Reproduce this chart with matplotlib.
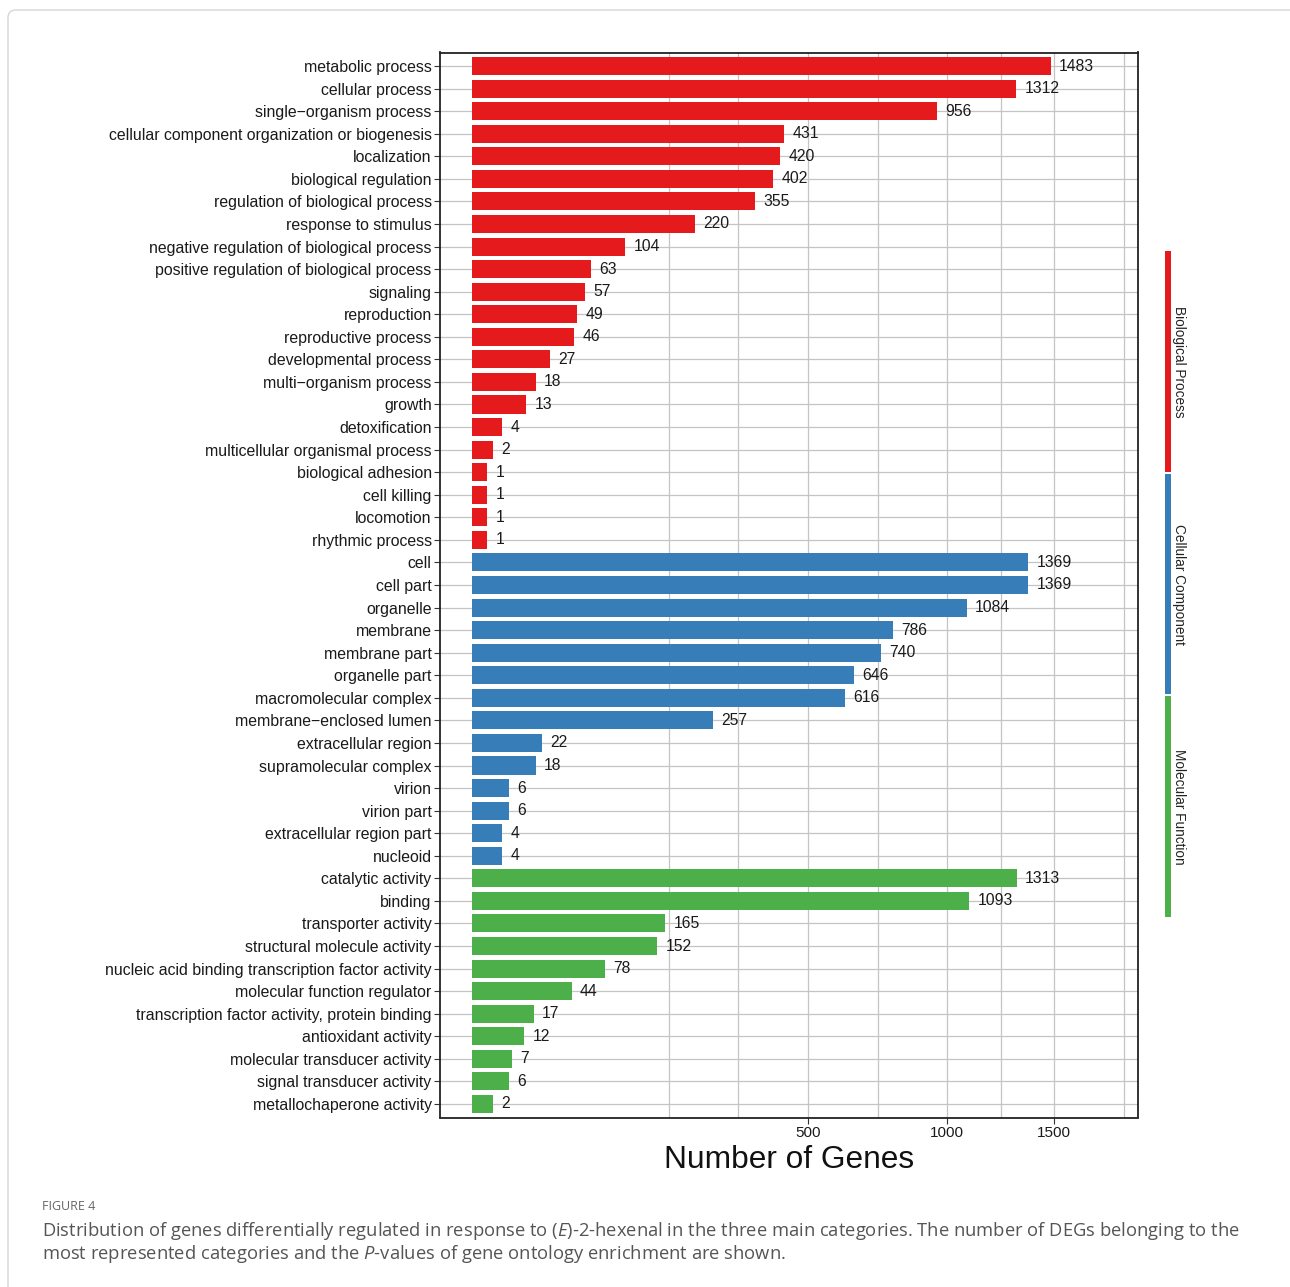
import matplotlib
import matplotlib.pyplot as plt
import numpy as np
from matplotlib.patches import FancyBboxPatch

matplotlib.use("Agg")

plt.rcParams["font.family"] = ["Liberation Sans", "DejaVu Sans"]
plt.rcParams["mathtext.fontset"] = "custom"
plt.rcParams["mathtext.rm"] = "Open Sans"
plt.rcParams["mathtext.it"] = "Open Sans:italic"

# GO level-2 terms and DEG counts, grouped by ontology
bp_terms = [
    "metabolic process", "cellular process", "single\u2212organism process",
    "cellular component organization or biogenesis", "localization",
    "biological regulation", "regulation of biological process",
    "response to stimulus", "negative regulation of biological process",
    "positive regulation of biological process", "signaling", "reproduction",
    "reproductive process", "developmental process", "multi\u2212organism process",
    "growth", "detoxification", "multicellular organismal process",
    "biological adhesion", "cell killing", "locomotion", "rhythmic process",
]
bp_counts = [1483, 1312, 956, 431, 420, 402, 355, 220, 104, 63, 57, 49, 46,
             27, 18, 13, 4, 2, 1, 1, 1, 1]

cc_terms = [
    "cell", "cell part", "organelle", "membrane", "membrane part",
    "organelle part", "macromolecular complex", "membrane\u2212enclosed lumen",
    "extracellular region", "supramolecular complex", "virion", "virion part",
    "extracellular region part", "nucleoid",
]
cc_counts = [1369, 1369, 1084, 786, 740, 646, 616, 257, 22, 18, 6, 6, 4, 4]

mf_terms = [
    "catalytic activity", "binding", "transporter activity",
    "structural molecule activity",
    "nucleic acid binding transcription factor activity",
    "molecular function regulator",
    "transcription factor activity, protein binding", "antioxidant activity",
    "molecular transducer activity", "signal transducer activity",
    "metallochaperone activity",
]
mf_counts = [1313, 1093, 165, 152, 78, 44, 17, 12, 7, 6, 2]

groups = ["Biological Process", "Cellular Component", "Molecular Function"]
group_colors = ["#E41A1C", "#377EB8", "#4DAF4A"]
x_breaks = [500, 1000, 1500]

terms = bp_terms + cc_terms + mf_terms
counts = np.array(bp_counts + cc_counts + mf_counts)
colors = ([group_colors[0]] * len(bp_terms) + [group_colors[1]] * len(cc_terms)
          + [group_colors[2]] * len(mf_terms))


def sqrt_fwd(x):
    x = np.asarray(x, dtype=float)
    return np.sign(x) * np.sqrt(np.abs(x))


def sqrt_inv(y):
    y = np.asarray(y, dtype=float)
    return np.sign(y) * y ** 2


def minor_breaks(major):
    # midpoints between majors in sqrt space, extended one step each way
    t = sqrt_fwd(major)
    step = t[1] - t[0]
    ext = np.concatenate([[t[0] - step], t, [t[-1] + step]])
    mids = (ext[:-1] + ext[1:]) / 2
    return sqrt_inv(np.concatenate([ext, mids]))


W, H = 1290, 1287
fig = plt.figure(figsize=(W / 100, H / 100), dpi=100)

# page frame
fig.patches.append(FancyBboxPatch(
    (8 / W, -0.05), 1.2, 1 - 10 / H + 0.05,
    boxstyle="round,pad=0,rounding_size=0.006", transform=fig.transFigure,
    facecolor="none", edgecolor="#d6d6d6", lw=1.0))

ax = fig.add_axes([440 / W, 1 - 1117.5 / H, 698 / W, 1065 / H])
ax.set_xscale("function", functions=(sqrt_fwd, sqrt_inv))

y = np.arange(len(terms))
ax.barh(y, counts, height=0.8, color=colors, zorder=2)
for yi, v in zip(y, counts):
    ax.annotate(str(v), (v, yi), xytext=(6, 0), textcoords="offset points",
                va="center", ha="left", fontsize=11.3, color="#1a1a1a", zorder=3)

ax.set_xlim(-4.5, 1963)
ax.set_ylim(len(terms) - 0.4, -0.6)
ax.set_yticks(y)
ax.set_yticklabels(terms, fontsize=11.4, color="#1a1a1a")
ax.set_xticks(x_breaks)
ax.set_xticklabels([str(b) for b in x_breaks], fontsize=11, color="#1a1a1a")
lo, hi = ax.get_xlim()
ax.set_xticks([m for m in minor_breaks(x_breaks) if lo < m < hi and m not in x_breaks],
              minor=True)
ax.tick_params(axis="both", which="major", length=4, width=0.8, color="#333333", pad=2)
ax.tick_params(axis="x", which="minor", length=0)
ax.grid(which="both", axis="both", color="#c4c4c4", lw=0.9, zorder=0)
ax.set_axisbelow(True)
for s in ax.spines.values():
    s.set_color("#222222")
    s.set_linewidth(1.3)
ax.set_xlabel("Number of Genes", fontsize=22.8, labelpad=4, color="#111111")

# ontology key on the right
sax = fig.add_axes([1165 / W, 1 - 918 / H, 6 / W, 668 / H])
sax.barh(np.arange(len(groups)), [1] * len(groups), height=0.99,
         color=group_colors)
sax.set_xlim(0, 1)
sax.set_ylim(len(groups) - 0.5, -0.5)
sax.axis("off")
for i, g in enumerate(groups):
    sax.text(2.3, i, g, rotation=270, ha="center", va="center",
             fontsize=9.8, color="#222222", transform=sax.transData)

fig.text(42 / W, 1 - 1206 / H, "FIGURE 4", fontsize=9, color="#666666",
         family="Open Sans", va="center")
fig.text(42 / W, 1 - 1231 / H,
         "Distribution of genes differentially regulated in response to "
         "($\\mathit{E}$)-2-hexenal in the three main categories. The number of "
         "DEGs belonging to the",
         fontsize=13.2, color="#555555", family="Open Sans", va="center")
fig.text(42 / W, 1 - 1254 / H,
         "most represented categories and the $\\mathit{P}$-values of gene "
         "ontology enrichment are shown.",
         fontsize=13.2, color="#555555", family="Open Sans", va="center")

fig.savefig("out.png", dpi=100)
